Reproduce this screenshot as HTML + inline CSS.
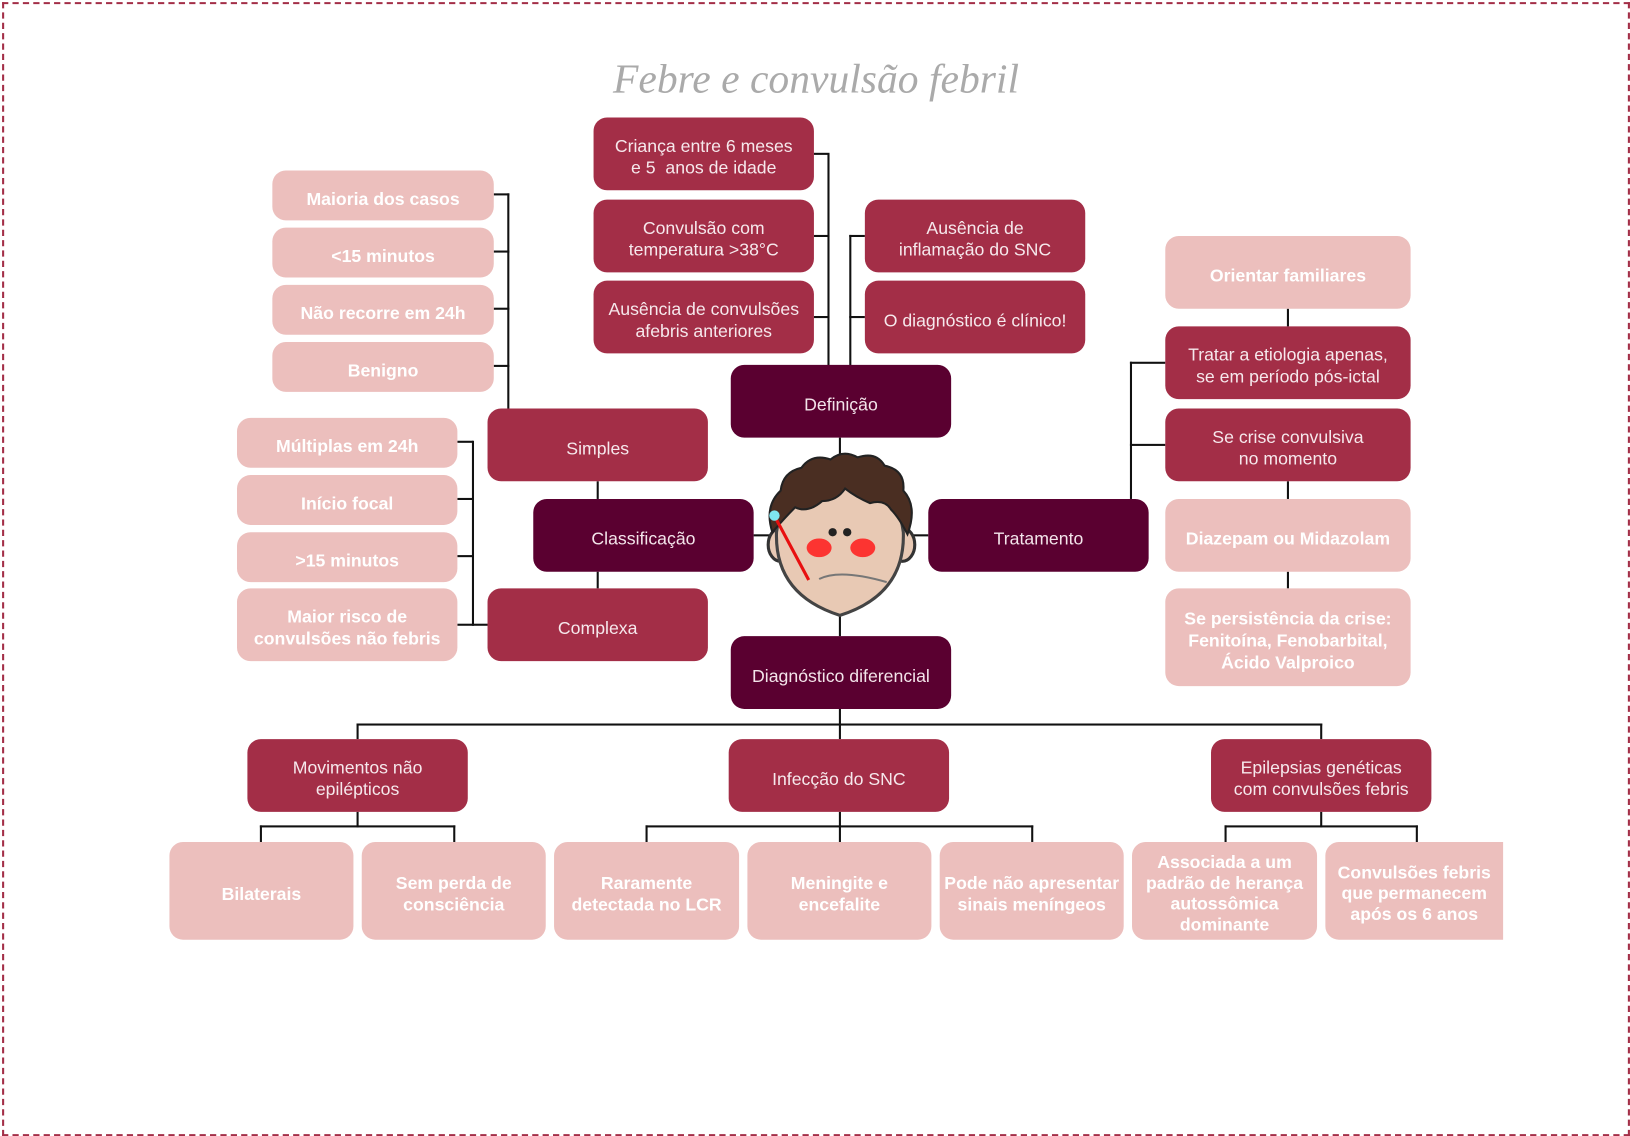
<!DOCTYPE html>
<html><head><meta charset="utf-8"><style>
html,body{margin:0;padding:0;background:#fff;}
body{width:1630px;height:1136px;overflow:hidden;position:relative;}
#w{position:absolute;left:0;top:0;width:1568px;height:1093px;transform:scale(1.0395);transform-origin:0 0;font-family:"Liberation Sans",sans-serif;}
.b{position:absolute;border-radius:13px;display:flex;align-items:center;justify-content:center;text-align:center;font-size:17px;line-height:21px;box-sizing:border-box;padding:6px 4px 0 4px;}
.d{background:#5a0030;color:#f3e4ea;}
.m{background:#a32e47;color:#f6e8ec;}
.l{background:#ecbfbd;color:#fff;font-weight:bold;}
.h{position:absolute;height:2px;background:#111;}
.v{position:absolute;width:2px;background:#111;}
#bd{position:absolute;left:2px;top:2px;width:1562px;height:1087px;border:2px dashed #a32e47;}
#t{position:absolute;left:560px;top:52px;width:450px;text-align:center;font-family:"Liberation Serif",serif;font-style:italic;font-size:40px;color:#aaa;font-weight:normal;}
</style></head><body><div id="w">
<div id="bd"></div>
<div id="t">Febre e convulsão febril</div>

<!-- lines -->
<div class="v" style="left:796px;top:148px;height:204px"></div>
<div class="h" style="left:783px;top:147px;width:15px"></div>
<div class="h" style="left:783px;top:226px;width:15px"></div>
<div class="h" style="left:783px;top:304px;width:15px"></div>
<div class="v" style="left:817px;top:226px;height:126px"></div>
<div class="h" style="left:817px;top:226px;width:15px"></div>
<div class="h" style="left:817px;top:304px;width:15px"></div>
<div class="v" style="left:807px;top:421px;height:20px"></div>
<div class="v" style="left:807px;top:590px;height:22px"></div>
<div class="h" style="left:725px;top:514px;width:18px"></div>
<div class="h" style="left:873px;top:514px;width:20px"></div>
<div class="v" style="left:488px;top:186px;height:207px"></div>
<div class="h" style="left:475px;top:186px;width:15px"></div>
<div class="h" style="left:475px;top:241px;width:15px"></div>
<div class="h" style="left:475px;top:296px;width:15px"></div>
<div class="h" style="left:475px;top:351px;width:15px"></div>
<div class="v" style="left:574px;top:463px;height:17px"></div>
<div class="v" style="left:574px;top:550px;height:16px"></div>
<div class="v" style="left:454px;top:424px;height:178px"></div>
<div class="h" style="left:440px;top:424px;width:15px"></div>
<div class="h" style="left:440px;top:479px;width:15px"></div>
<div class="h" style="left:440px;top:534px;width:15px"></div>
<div class="h" style="left:440px;top:600px;width:29px"></div>
<div class="v" style="left:1087px;top:348px;height:132px"></div>
<div class="h" style="left:1087px;top:348px;width:34px"></div>
<div class="h" style="left:1087px;top:427px;width:34px"></div>
<div class="v" style="left:1238px;top:297px;height:17px"></div>
<div class="v" style="left:1238px;top:463px;height:17px"></div>
<div class="v" style="left:1238px;top:550px;height:16px"></div>
<div class="v" style="left:807px;top:682px;height:29px"></div>
<div class="h" style="left:343px;top:696px;width:929px"></div>
<div class="v" style="left:343px;top:696px;height:15px"></div>
<div class="v" style="left:1270px;top:696px;height:15px"></div>
<div class="v" style="left:343px;top:781px;height:15px"></div>
<div class="h" style="left:250px;top:794px;width:188px"></div>
<div class="v" style="left:250px;top:794px;height:16px"></div>
<div class="v" style="left:436px;top:794px;height:16px"></div>
<div class="v" style="left:807px;top:781px;height:29px"></div>
<div class="h" style="left:621px;top:794px;width:373px"></div>
<div class="v" style="left:621px;top:794px;height:16px"></div>
<div class="v" style="left:992px;top:794px;height:16px"></div>
<div class="v" style="left:1270px;top:781px;height:15px"></div>
<div class="h" style="left:1178px;top:794px;width:186px"></div>
<div class="v" style="left:1178px;top:794px;height:16px"></div>
<div class="v" style="left:1362px;top:794px;height:16px"></div>

<!-- boxes -->
<div class="b d" style="left:703px;top:351px;width:212px;height:70px">Definição</div>
<div class="b d" style="left:513px;top:480px;width:212px;height:70px">Classificação</div>
<div class="b d" style="left:893px;top:480px;width:212px;height:70px">Tratamento</div>
<div class="b d" style="left:703px;top:612px;width:212px;height:70px">Diagnóstico diferencial</div>

<div class="b m" style="left:571px;top:113px;width:212px;height:70px">Criança entre 6 meses<br>e 5&nbsp; anos de idade</div>
<div class="b m" style="left:571px;top:192px;width:212px;height:70px">Convulsão com<br>temperatura &gt;38°C</div>
<div class="b m" style="left:571px;top:270px;width:212px;height:70px">Ausência de convulsões<br>afebris anteriores</div>
<div class="b m" style="left:832px;top:192px;width:212px;height:70px">Ausência de<br>inflamação do SNC</div>
<div class="b m" style="left:832px;top:270px;width:212px;height:70px">O diagnóstico é clínico!</div>
<div class="b m" style="left:469px;top:393px;width:212px;height:70px">Simples</div>
<div class="b m" style="left:469px;top:566px;width:212px;height:70px">Complexa</div>
<div class="b m" style="left:1121px;top:314px;width:236px;height:70px">Tratar a etiologia apenas,<br>se em período pós-ictal</div>
<div class="b m" style="left:1121px;top:393px;width:236px;height:70px">Se crise convulsiva<br>no momento</div>
<div class="b m" style="left:238px;top:711px;width:212px;height:70px">Movimentos não<br>epilépticos</div>
<div class="b m" style="left:701px;top:711px;width:212px;height:70px">Infecção do SNC</div>
<div class="b m" style="left:1165px;top:711px;width:212px;height:70px">Epilepsias genéticas<br>com convulsões febris</div>

<div class="b l" style="left:262px;top:164px;width:213px;height:48px">Maioria dos casos</div>
<div class="b l" style="left:262px;top:219px;width:213px;height:48px">&lt;15 minutos</div>
<div class="b l" style="left:262px;top:274px;width:213px;height:48px">Não recorre em 24h</div>
<div class="b l" style="left:262px;top:329px;width:213px;height:48px">Benigno</div>
<div class="b l" style="left:228px;top:402px;width:212px;height:48px">Múltiplas em 24h</div>
<div class="b l" style="left:228px;top:457px;width:212px;height:48px">Início focal</div>
<div class="b l" style="left:228px;top:512px;width:212px;height:48px">&gt;15 minutos</div>
<div class="b l" style="left:228px;top:566px;width:212px;height:70px">Maior risco de<br>convulsões não febris</div>
<div class="b l" style="left:1121px;top:227px;width:236px;height:70px">Orientar familiares</div>
<div class="b l" style="left:1121px;top:480px;width:236px;height:70px">Diazepam ou Midazolam</div>
<div class="b l" style="left:1121px;top:566px;width:236px;height:94px">Se persistência da crise:<br>Fenitoína, Fenobarbital,<br>Ácido Valproico</div>
<div class="b l" style="left:163px;top:810px;width:177px;height:94px">Bilaterais</div>
<div class="b l" style="left:348px;top:810px;width:177px;height:94px">Sem perda de<br>consciência</div>
<div class="b l" style="left:533px;top:810px;width:178px;height:94px">Raramente<br>detectada no LCR</div>
<div class="b l" style="left:719px;top:810px;width:177px;height:94px">Meningite e<br>encefalite</div>
<div class="b l" style="left:904px;top:810px;width:177px;height:94px;padding:6px 0 0 0">Pode não apresentar<br>sinais meníngeos</div>
<div class="b l" style="left:1089px;top:810px;width:178px;height:94px;line-height:20px">Associada a um<br>padrão de herança<br>autossômica<br>dominante</div>
<div class="b l" style="left:1275px;top:810px;width:171px;height:94px;border-radius:13px 0 0 13px;line-height:20px">Convulsões febris<br>que permanecem<br>após os 6 anos</div>

<!-- face -->
<svg style="position:absolute;left:733px;top:432px" width="150" height="165" viewBox="0 0 150 165">
<ellipse cx="18" cy="92" rx="12" ry="16" fill="#e8c9b4" stroke="#333" stroke-width="3"/>
<ellipse cx="135" cy="92" rx="12" ry="16" fill="#e8c9b4" stroke="#333" stroke-width="3"/>
<path d="M14 80 Q12 140 75 160 Q138 140 136 80 Q130 30 75 25 Q20 30 14 80Z" fill="#e8c9b4" stroke="#444" stroke-width="3"/>
<path d="M10 80 Q2 55 18 40 Q20 22 38 18 Q48 4 66 10 Q78 0 92 8 Q110 2 118 16 Q138 20 136 40 Q150 55 140 82 Q132 66 124 58 Q118 48 104 52 Q90 46 80 38 Q72 50 58 50 Q44 62 32 56 Q22 66 10 80Z" fill="#4a2e22" stroke="#222" stroke-width="2"/>
<path d="M55 125 Q75 115 120 128" fill="none" stroke="#777" stroke-width="2"/>
<circle cx="68" cy="80" r="4" fill="#222"/><circle cx="82" cy="80" r="4" fill="#222"/>
<ellipse cx="55" cy="95" rx="12" ry="9" fill="#ff1a1a" opacity="0.85"/>
<ellipse cx="97" cy="95" rx="12" ry="9" fill="#ff1a1a" opacity="0.85"/>
<line x1="14" y1="68" x2="45" y2="126" stroke="#e81010" stroke-width="3"/>
<circle cx="12" cy="64" r="5" fill="#7fe6f0"/>
</svg>
</div></body></html>
